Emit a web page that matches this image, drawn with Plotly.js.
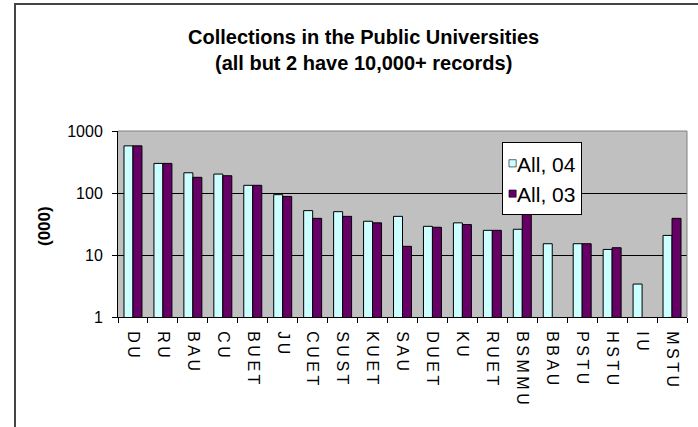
<!DOCTYPE html>
<html>
<head>
<meta charset="utf-8">
<script src="https://cdn.plot.ly/plotly-3.0.1.min.js"></script>
<style>
html,body{margin:0;padding:0;background:#fff;}
#wrap{position:relative;width:698px;height:427px;}
#chart{position:absolute;left:0;top:0;width:698px;height:427px;}
#frame{position:absolute;left:14px;top:3px;width:690px;height:430px;border-left:2px solid #444;border-top:2px solid #444;pointer-events:none;}
#chart .xtick text{letter-spacing:3.5px;}
</style>
</head>
<body>
<div id="wrap"><div id="chart"></div><div id="frame"></div></div>
<script>
const categories = ["DU","RU","BAU","CU","BUET","JU","CUET","SUST","KUET","SAU","DUET","KU","RUET","BSMMU","BBAU","PSTU","HSTU","IU","MSTU"];
const all04 = [576,300,212,202,133,94,52,50,35,42,29,33,25,26,15.2,15.2,12.3,3.4,20.7];
const all03 = [576,300,179,190,133,88,39,42,33,13.8,28,31,25,80,null,15.2,13.1,null,39];
const seriesNames = ["All, 04","All, 03"];
const tickVals = [1,10,100,1000];
const tickText = ["1","10","100","1000"];

const font = {family:"Liberation Sans, Arial, sans-serif", color:"#000"};
const traces = [
  {type:"bar", name:seriesNames[0], x:categories, y:all04,
   marker:{color:"#CCFFFF", line:{color:"#000", width:1}}},
  {type:"bar", name:seriesNames[1], x:categories, y:all03,
   marker:{color:"#660066", line:{color:"#000", width:1}}}
];
const layout = {
  width:698, height:427,
  margin:{l:118, r:11, t:131, b:110, pad:0},
  paper_bgcolor:"rgba(0,0,0,0)",
  plot_bgcolor:"#C0C0C0",
  barmode:"group", bargap:0.4, bargroupgap:0,
  showlegend:true,
  font:Object.assign({size:16}, font),
  title:{text:"<b>Collections in the Public Universities<br>(all but 2 have 10,000+ records)</b>",
         font:Object.assign({}, font, {size:20}), xref:"container", yref:"container",
         x:0.521, xanchor:"center", y:0.898, yanchor:"top"},
  xaxis:{type:"category", tickangle:90, ticks:"outside", tickson:"boundaries", ticklen:5,
         tickcolor:"#000", showline:true, linecolor:"#000", linewidth:1, showgrid:false,
         ticklabelstandoff:10,
         tickfont:Object.assign({}, font, {size:16}), fixedrange:true},
  yaxis:{type:"log", range:[0,3], tickvals:tickVals, ticktext:tickText, ticks:"outside", ticklen:5,
         tickcolor:"#000", showline:true, linecolor:"#000", linewidth:1,
         showgrid:true, gridcolor:"#000", gridwidth:1, zeroline:false,
         ticklabelstandoff:6,
         tickfont:Object.assign({}, font, {size:16})},
  annotations:[
    {text:"<b>(000)</b>", xref:"paper", yref:"paper", x:-0.128, y:0.49, textangle:-90,
     showarrow:false, xanchor:"center", yanchor:"middle", font:Object.assign({}, font, {size:17})}
  ],
  legend:{x:0.675, y:0.94, xanchor:"left", yanchor:"top", bgcolor:"#fff",
          bordercolor:"#000", borderwidth:1, font:Object.assign({}, font, {size:21}),
          traceorder:"normal", itemwidth:30, tracegroupgap:0},
  shapes:[
    {type:"line", xref:"paper", yref:"paper", x0:1, x1:1, y0:0, y1:1, line:{color:"#808080", width:1}},
    {type:"line", xref:"paper", yref:"paper", x0:0, x1:1, y0:1, y1:1, line:{color:"#808080", width:1}}
  ]
};
Plotly.newPlot("chart", traces, layout, {staticPlot:true, displayModeBar:false}).then(function(){
  // compact legend: smaller symbols placed closer to the text, as in the reference
  const leg = document.querySelector('#chart .legend');
  if (!leg) return;
  const shift = 26;
  leg.querySelectorAll('.legendtext').forEach(function(t){
    const x = parseFloat(t.getAttribute('x')) || 40;
    t.setAttribute('x', x - shift);
  });
  leg.querySelectorAll('.legendpoints path').forEach(function(p){
    p.setAttribute('transform', 'translate(9.5,0) scale(0.6)');
  });
  const bg = leg.querySelector('rect.bg');
  if (bg) {
    const w = parseFloat(bg.getAttribute('width'));
    bg.setAttribute('width', w - shift);
  }
});
</script>
</body>
</html>
